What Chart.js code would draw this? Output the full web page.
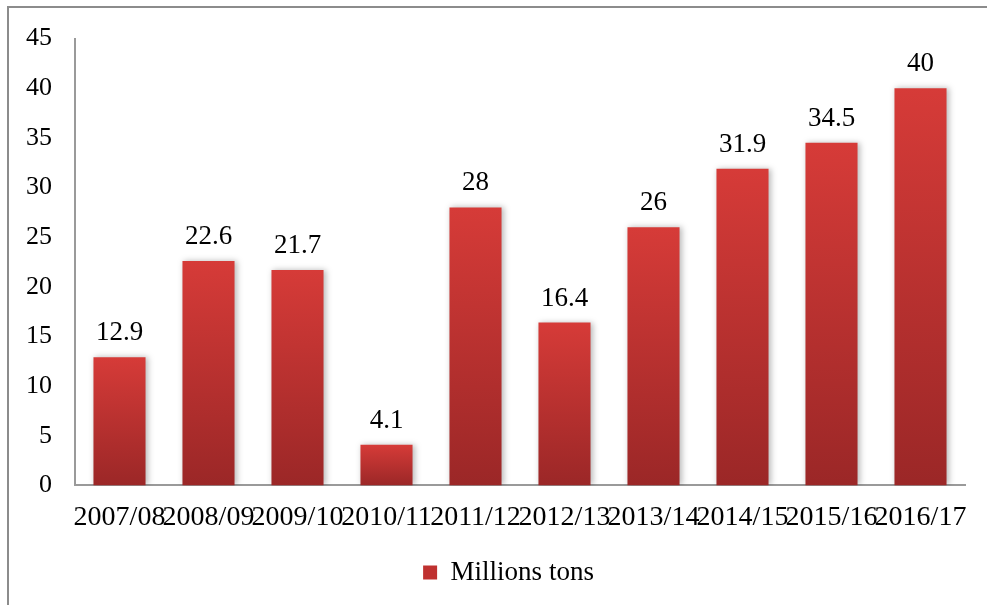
<!DOCTYPE html>
<html>
<head>
<meta charset="utf-8">
<script src="https://cdn.jsdelivr.net/npm/chart.js@4/dist/chart.umd.min.js"></script>
<style>
  html, body { margin: 0; padding: 0; background: #fff; }
  #wrap { position: relative; width: 987px; height: 605px; }
</style>
</head>
<body>
<div id="wrap"><canvas id="chartProducao"></canvas></div>
<script>
// Safras e volumes (milhões de toneladas)
var safras = ['2007/08', '2008/09', '2009/10', '2010/11', '2011/12', '2012/13', '2013/14', '2014/15', '2015/16', '2016/17'];
var volumes = [12.9, 22.6, 21.7, 4.1, 28, 16.4, 26, 31.9, 34.5, 40];
var serieNome = 'Millions tons';
var yMax = 45;
var yPasso = 5;

var fonte = '"Liberation Serif", "Times New Roman", serif';

// gradiente por barra: claro no topo, escuro na base
function corBarra(context) {
    var chart = context.chart;
    var area = chart.chartArea;
    if (!area || context.type !== 'data') return '#c23230';
    var v = context.parsed ? context.parsed.y : volumes[context.dataIndex];
    var yTop = chart.scales.y.getPixelForValue(v);
    var g = chart.ctx.createLinearGradient(0, yTop, 0, area.bottom);
    g.addColorStop(0, '#d63b38');
    g.addColorStop(1, '#9b2727');
    return g;
}

// sombra leve nas barras
var sombraBarras = {
    id: 'sombraBarras',
    beforeDatasetDraw: function (chart) {
        var ctx = chart.ctx;
        ctx.save();
        ctx.shadowColor = 'rgba(0,0,0,0.28)';
        ctx.shadowBlur = 6;
        ctx.shadowOffsetX = 2;
        ctx.shadowOffsetY = 0;
    },
    afterDatasetDraw: function (chart) {
        chart.ctx.restore();
    }
};

// valores acima das barras
var rotulosValor = {
    id: 'rotulosValor',
    afterDatasetsDraw: function (chart) {
        var ctx = chart.ctx;
        var meta = chart.getDatasetMeta(0);
        ctx.save();
        ctx.font = '27px ' + fonte;
        ctx.fillStyle = '#000';
        ctx.textAlign = 'center';
        ctx.textBaseline = 'alphabetic';
        meta.data.forEach(function (bar, i) {
            ctx.fillText(String(volumes[i]), bar.x, bar.y - 17);
        });
        ctx.restore();
    }
};

// moldura (topo e esquerda)
var moldura = {
    id: 'moldura',
    beforeDraw: function (chart) {
        var ctx = chart.ctx;
        ctx.save();
        ctx.strokeStyle = '#8c8c8c';
        ctx.lineWidth = 2;
        ctx.beginPath();
        ctx.moveTo(8, chart.height);
        ctx.lineTo(8, 7);
        ctx.lineTo(chart.width, 7);
        ctx.stroke();
        ctx.restore();
    }
};

// legenda centralizada um pouco à direita do centro do canvas
var posLegenda = {
    id: 'posLegenda',
    afterLayout: function (chart) {
        if (chart.legend) {
            chart.legend.left = 52;
            chart.legend.right = chart.chartArea.right;
        }
    }
};

new Chart(document.getElementById('chartProducao'), {
    type: 'bar',
    data: {
        labels: safras,
        datasets: [{
            label: serieNome,
            data: volumes,
            backgroundColor: corBarra,
            borderWidth: 0,
            categoryPercentage: 1,
            barPercentage: 0.585
        }]
    },
    options: {
        responsive: true,
        maintainAspectRatio: false,
        animation: false,
        layout: { padding: { top: 35, left: 0, right: 22, bottom: 9 } },
        plugins: {
            tooltip: { enabled: false },
            legend: {
                position: 'bottom',
                labels: {
                    color: '#000',
                    font: { family: fonte, size: 27 },
                    boxWidth: 14,
                    boxHeight: 14,
                    padding: 10,
                    generateLabels: function (chart) {
                        return [{
                            text: serieNome,
                            fillStyle: '#bf3130',
                            strokeStyle: '#bf3130',
                            lineWidth: 0,
                            fontColor: '#000',
                            datasetIndex: 0
                        }];
                    }
                }
            }
        },
        scales: {
            x: {
                grid: { display: false, drawTicks: false },
                border: { display: true, color: '#9a9a9a', width: 2 },
                ticks: {
                    color: '#000',
                    font: { family: fonte, size: 28 },
                    autoSkip: false,
                    maxRotation: 0,
                    minRotation: 0,
                    padding: 15
                }
            },
            y: {
                min: 0,
                max: yMax,
                afterFit: function (scale) { scale.width = 75; },
                grid: { display: false, drawTicks: false },
                border: { display: true, color: '#9a9a9a', width: 2 },
                ticks: {
                    stepSize: yPasso,
                    color: '#000',
                    font: { family: fonte, size: 26 },
                    padding: 23
                }
            }
        }
    },
    plugins: [moldura, posLegenda, sombraBarras, rotulosValor]
});
</script>
</body>
</html>
